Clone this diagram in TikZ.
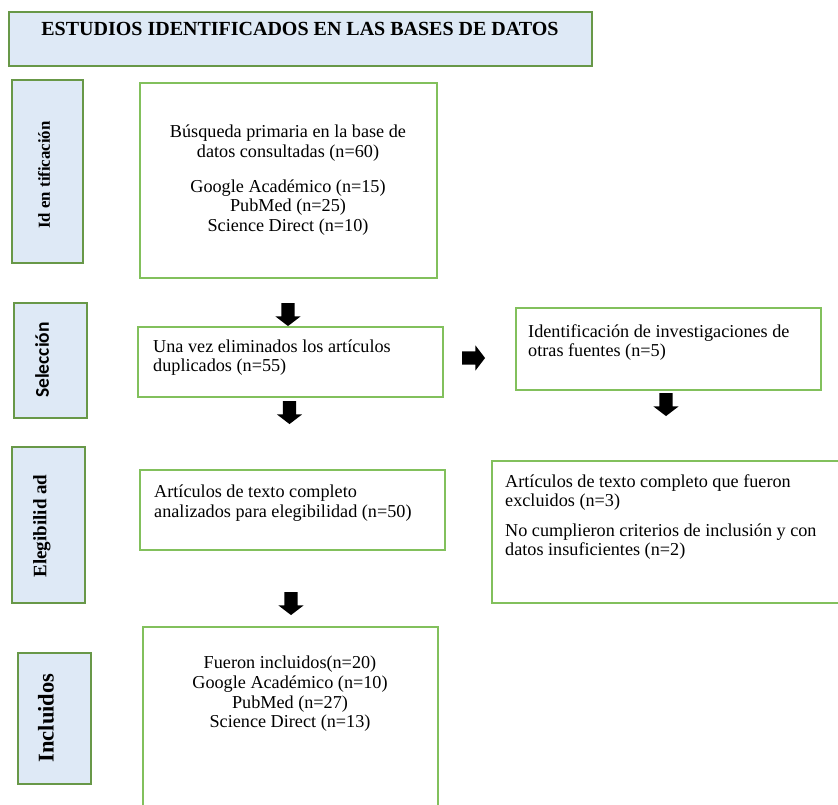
\documentclass[tikz,border=0pt]{standalone}
\usepackage{fontspec}
\setmainfont{Liberation Serif}
\newfontfamily\labsans{Carlito}
\usetikzlibrary{shapes.arrows}
\definecolor{sideb}{RGB}{104,152,72}
\definecolor{boxb}{RGB}{130,192,92}
\definecolor{sidefill}{RGB}{222,233,246}
\begin{document}
\begin{tikzpicture}[x=1pt,y=-1pt,
  side/.style={draw=sideb, line width=2pt, fill=sidefill, inner sep=0pt},
  box/.style={draw=boxb, line width=2pt, fill=white, inner sep=0pt},
  body/.style={font=\fontsize{18.2}{19.6}\selectfont, inner sep=0pt},
  sidelab/.style={font=\bfseries\fontsize{18}{20}\selectfont, rotate=90, inner sep=0pt},
  blockarrow/.style={single arrow, fill=black, draw=none, minimum height=23pt,
    minimum width=25pt, inner sep=6.5pt, single arrow head extend=6pt,
    single arrow tip angle=105},
  downarrow/.style={blockarrow, shape border rotate=270},
  rightarrow/.style={blockarrow, shape border rotate=0}]
\useasboundingbox (0,0) rectangle (838,805);
\clip (0,0) rectangle (838,805);
\fill[white] (0,0) rectangle (838,805);

% title
\node[side, minimum width=583pt, minimum height=54pt] (title) at (300.5,39) {};
\node[font=\bfseries\fontsize{20}{22}\selectfont, inner sep=0pt] (titletext) at (300,29) {ESTUDIOS IDENTIFICADOS EN LAS BASES DE DATOS};

% side labels
\node[side, minimum width=71pt, minimum height=183pt] (s1) at (47.5,171.5) {};
\node[sidelab, font=\bfseries\fontsize{16.8}{20}\selectfont] (s1t) at (44,175) {Id en tificación};
\node[side, minimum width=73pt, minimum height=115pt] (s2) at (50.5,360.5) {};
\node[sidelab, font=\labsans\bfseries\fontsize{19.5}{20}\selectfont] (s2t) at (42,360) {Selección};
\node[side, minimum width=73pt, minimum height=156pt] (s3) at (48.5,525) {};
\node[sidelab, font=\bfseries\fontsize{19}{20}\selectfont] (s3t) at (42,526) {Elegibilid ad};
\node[side, minimum width=73pt, minimum height=131pt] (s4) at (54.5,718.5) {};
\node[sidelab, font=\bfseries\fontsize{22.5}{24}\selectfont] (s4t) at (46,718) {Incluidos};

% content boxes
\node[box, minimum width=297pt, minimum height=195pt] (b1) at (288.5,180.5) {};
\node[body, align=center] (b1t) at (288,180) {Búsqueda primaria en la base de\\datos consultadas (n=60)\\[15.5pt]Google Académico (n=15)\\PubMed (n=25)\\Science Direct (n=10)};

\node[box, minimum width=305pt, minimum height=70pt] (b2) at (290.5,362) {};
\node[body, align=left, anchor=west] (b2t) at (153,357.5) {Una vez eliminados los artículos\\duplicados (n=55)};

\node[box, minimum width=305pt, minimum height=82pt] (b3) at (668.5,349) {};
\node[body, align=left, anchor=west] (b3t) at (528,342.5) {Identificación de investigaciones de\\otras fuentes (n=5)};

\node[box, minimum width=305pt, minimum height=80pt] (b4) at (292.5,510) {};
\node[body, align=left, anchor=west] (b4t) at (154,503) {Artículos de texto completo\\analizados para elegibilidad (n=50)};

\node[box, minimum width=358pt, minimum height=142pt] (b5) at (671,532) {};
\node[body, align=left, anchor=west] (b5t) at (505,517) {Artículos de texto completo que fueron\\excluidos (n=3)\\[10pt]No cumplieron criterios de inclusión y con\\datos insuficientes (n=2)};

\node[box, minimum width=295pt, minimum height=188pt] (b6) at (290.5,721) {};
\node[body, align=center] (b6t) at (290,694) {Fueron incluidos(n=20)\\Google Académico (n=10)\\PubMed (n=27)\\Science Direct (n=13)};

% block arrows
\node[downarrow] (a1) at (288,312) {};
\node[downarrow] (a2) at (289.5,410) {};
\node[rightarrow] (a3) at (471,358) {};
\node[downarrow] (a4) at (666,402) {};
\node[downarrow] (a5) at (291,601) {};
\end{tikzpicture}
\end{document}
